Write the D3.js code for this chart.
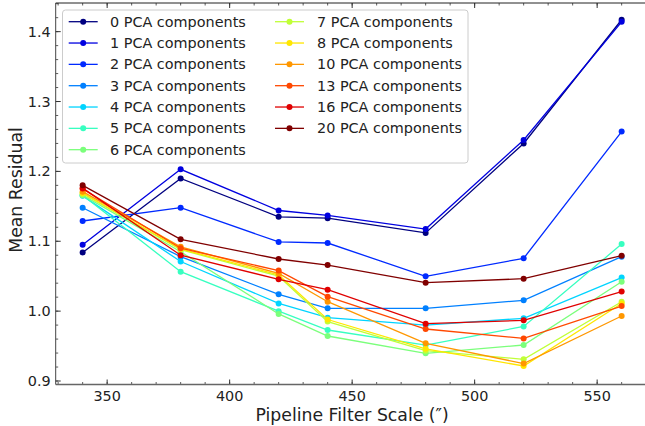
<!DOCTYPE html>
<html>
<head>
<meta charset="utf-8">
<script src="https://cdn.jsdelivr.net/npm/d3@7"></script>
<style>
html,body{margin:0;padding:0;background:#fff;}
svg{display:block;font-family:"DejaVu Sans",sans-serif;}
</style>
</head>
<body>
<svg id="chart" width="645" height="426"></svg>
<script>
const filterScales = [340, 380, 420, 440, 480, 520, 560];
const components = [0, 1, 2, 3, 4, 5, 6, 7, 8, 10, 13, 16, 20];
const s0  = [1.084, 1.190, 1.135, 1.133, 1.112, 1.240, 1.417];
const s1  = [1.095, 1.203, 1.144, 1.137, 1.1175, 1.245, 1.414];
const s2  = [1.129, 1.148, 1.099, 1.0975, 1.0498, 1.0756, 1.257];
const s3  = [1.148, 1.078, 1.024, 1.004, 1.004, 1.0155, 1.078];
const s4  = [1.165, 1.071, 1.011, 0.9906, 0.980, 0.9897, 1.048];
const s5  = [1.166, 1.0564, 1.000, 0.973, 0.9515, 0.978, 1.096];
const s6  = [1.166, 1.085, 0.996, 0.9644, 0.9396, 0.9515, 1.042];
const s7  = [1.168, 1.088, 1.050, 0.985, 0.9434, 0.931, 1.0135];
const s8  = [1.169, 1.089, 1.052, 0.988, 0.946, 0.9215, 1.011];
const s10 = [1.171, 1.092, 1.054, 1.0135, 0.954, 0.925, 0.993];
const s13 = [1.175, 1.090, 1.058, 1.0207, 0.9744, 0.961, 1.0073];
const s16 = [1.176, 1.080, 1.0455, 1.0307, 0.982, 0.9868, 1.028];
const s20 = [1.180, 1.1028, 1.0746, 1.066, 1.0407, 1.0464, 1.0794];
const seriesValues = [s0, s1, s2, s3, s4, s5, s6, s7, s8, s10, s13, s16, s20];
const xTicks = [350, 400, 450, 500, 550];
const yTicks = [0.9, 1.0, 1.1, 1.2, 1.3, 1.4];

// matplotlib jet colormap
function jet(t){
  function interp(pts, x){
    for(let i=0;i<pts.length-1;i++){
      const [x0,y0]=pts[i],[x1,y1]=pts[i+1];
      if(x>=x0 && x<=x1){ return x1===x0?y0:y0+(y1-y0)*(x-x0)/(x1-x0); }
    }
    return pts[pts.length-1][1];
  }
  const r=interp([[0,0],[0.35,0],[0.66,1],[0.89,1],[1,0.5]],t);
  const g=interp([[0,0],[0.125,0],[0.375,1],[0.64,1],[0.91,0],[1,0]],t);
  const b=interp([[0,0.5],[0.11,1],[0.34,1],[0.65,0],[1,0]],t);
  return d3.rgb(r*255,g*255,b*255).formatHex();
}

const svg = d3.select("#chart");
const FS = 14.4, LFS = 17.3;
const x = d3.scaleLinear().domain([329, 571]).range([55.7, 648.6]);
const y = d3.scaleLinear().domain([0.895, 1.441]).range([384.5, 3]);
const X0 = x.range()[0], X1 = x.range()[1], Y0 = y.range()[0], Y1 = y.range()[1];

// ticks (inward)
const g = svg.append("g");
const minorX = d3.range(330, 571, 10);
const minorY = d3.range(0.90, 1.441, 0.02);
const tickColor = "#333";
minorX.forEach(v=>{
  g.append("line").attr("x1",x(v)).attr("x2",x(v)).attr("y1",Y0).attr("y2",Y0-2.5).attr("stroke",tickColor).attr("stroke-width",0.8);
  g.append("line").attr("x1",x(v)).attr("x2",x(v)).attr("y1",Y1).attr("y2",Y1+2.5).attr("stroke",tickColor).attr("stroke-width",0.8);
});
minorY.forEach(v=>{
  g.append("line").attr("x1",X0).attr("x2",X0+2.5).attr("y1",y(v)).attr("y2",y(v)).attr("stroke",tickColor).attr("stroke-width",0.8);
});
xTicks.forEach(v=>{
  g.append("line").attr("x1",x(v)).attr("x2",x(v)).attr("y1",Y0).attr("y2",Y0-5).attr("stroke",tickColor).attr("stroke-width",1);
  g.append("line").attr("x1",x(v)).attr("x2",x(v)).attr("y1",Y1).attr("y2",Y1+5).attr("stroke",tickColor).attr("stroke-width",1);
  g.append("text").attr("x",x(v)).attr("y",Y0+16).attr("text-anchor","middle").attr("font-size",FS).attr("fill","#222").text(v);
});
yTicks.forEach(v=>{
  g.append("line").attr("x1",X0).attr("x2",X0+5).attr("y1",y(v)).attr("y2",y(v)).attr("stroke",tickColor).attr("stroke-width",1);
  g.append("text").attr("x",X0-5).attr("y",y(v)).attr("dy","0.35em").attr("text-anchor","end").attr("font-size",FS).attr("fill","#222").text(v.toFixed(1));
});

// spines
svg.append("line").attr("x1",X0).attr("x2",X1).attr("y1",Y0).attr("y2",Y0).attr("stroke","#666").attr("stroke-width",1.5);
svg.append("line").attr("x1",X0).attr("x2",X1).attr("y1",Y1).attr("y2",Y1).attr("stroke","#222").attr("stroke-width",1);
svg.append("line").attr("x1",X0).attr("x2",X0).attr("y1",Y0).attr("y2",Y1).attr("stroke","#444").attr("stroke-width",1);

// axis labels
svg.append("text").attr("x",(X0+X1)/2).attr("y",420.5).attr("text-anchor","middle").attr("font-size",LFS).attr("fill","#222").text("Pipeline Filter Scale (\u2033)");
svg.append("text").attr("transform",`translate(22,190) rotate(-90)`).attr("text-anchor","middle").attr("font-size",LFS).attr("fill","#222").text("Mean Residual");

// series
const line = d3.line().x((d,i)=>x(filterScales[i])).y(d=>y(d));
const plot = svg.append("g");
seriesValues.forEach((vals,i)=>{
  const c = jet(i/12);
  const sg = plot.append("g");
  sg.append("path").attr("d",line(vals)).attr("fill","none").attr("stroke",c).attr("stroke-width",1.3);
  sg.selectAll("circle").data(vals).join("circle")
    .attr("cx",(d,j)=>x(filterScales[j])).attr("cy",d=>y(d)).attr("r",3).attr("fill",c);
});

// legend
const lg = svg.append("g");
lg.append("rect").attr("x",62.5).attr("y",10).attr("width",405.5).attr("height",153).attr("rx",3).attr("ry",3)
  .attr("fill","rgba(255,255,255,0.8)").attr("stroke","#ccc").attr("stroke-width",1);
components.forEach((n,i)=>{
  const col = i<7?0:1, row = i<7?i:i-7;
  const lx = col===0?68.7:275, tx = col===0?110:317;
  const ly = 21.7 + row*21.33;
  const c = jet(i/12);
  lg.append("line").attr("x1",lx).attr("x2",lx+29).attr("y1",ly).attr("y2",ly).attr("stroke",c).attr("stroke-width",1.3);
  lg.append("circle").attr("cx",lx+14.5).attr("cy",ly).attr("r",3).attr("fill",c);
  lg.append("text").attr("x",tx).attr("y",ly).attr("dy","0.35em").attr("font-size",FS).attr("fill","#222").text(`${n} PCA components`);
});
</script>
</body>
</html>
